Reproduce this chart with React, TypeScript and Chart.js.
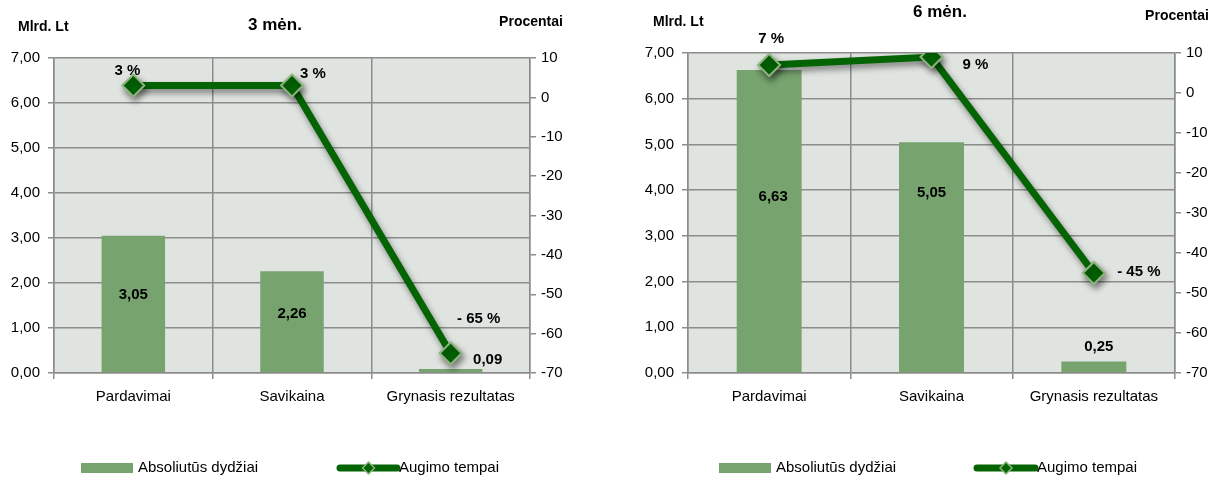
import React, { useEffect, useRef } from "react";
import { Chart, registerables } from "chart.js";

Chart.register(...registerables);

// ---------- data ----------
const categories = ["Pardavimai", "Savikaina", "Grynasis rezultatas"];
const absolute3m = [3.05, 2.26, 0.09];
const growth3m = [3, 3, -65];
const absolute6m = [6.63, 5.05, 0.25];
const growth6m = [7, 9, -45];
const panelTitles = ["3 mėn.", "6 mėn."];
const leftAxisTitle = "Mlrd. Lt";
const rightAxisTitle = "Procentai";
const seriesNames = ["Absoliutūs dydžiai", "Augimo tempai"];
const leftAxisRange = [0, 7, 1];
const rightAxisRange = [-70, 10, 10];

// ---------- style ----------
const H = 482;
const FONT = "'Liberation Sans', Arial, sans-serif";
const BAR = "#76A36E";
const LINE = "#046404";
const MARKER_BORDER = "#8DB47F";
const GRID = "#8C8C8C";
const PLOT_BG = "#E0E4E0";

const fmtAbs = (v: number) => v.toFixed(2).replace(".", ",");
const fmtPct = (v: number) => (v < 0 ? "- " + Math.abs(v) : String(v)) + " %";

type PanelCfg = {
  left: number;
  width: number;
  plotLeft: number;
  plotRight: number;
  plotTop: number;
  plotBottom: number;
  title: string;
  titlePos: [number, number];
  leftTitlePos: [number, number];
  rightTitlePos: [number, number];
  legendBoxX: number;
  legendText1X: number;
  legendLineX: [number, number];
  legendText2X: number;
  legendY: number;
  bars: number[];
  growth: number[];
  barLabelOffsets: [number, number][];
  lineLabelOffsets: [number, number][];
};

const panels: PanelCfg[] = [
  {
    left: 0,
    width: 600,
    plotLeft: 54,
    plotRight: 530,
    plotTop: 58,
    plotBottom: 373,
    title: panelTitles[0],
    titlePos: [275, 25],
    leftTitlePos: [18, 27],
    rightTitlePos: [531, 22],
    legendBoxX: 81,
    legendText1X: 138,
    legendLineX: [340, 397],
    legendText2X: 399,
    legendY: 468,
    bars: absolute3m,
    growth: growth3m,
    barLabelOffsets: [[0, 59], [0, 43], [37, -9]],
    lineLabelOffsets: [[-6, -15], [21, -12], [28, -34]],
  },
  {
    left: 600,
    width: 619,
    plotLeft: 88,
    plotRight: 575,
    plotTop: 53,
    plotBottom: 373,
    title: panelTitles[1],
    titlePos: [340, 12],
    leftTitlePos: [53, 22],
    rightTitlePos: [577, 16],
    legendBoxX: 119,
    legendText1X: 176,
    legendLineX: [377, 435],
    legendText2X: 437,
    legendY: 468,
    bars: absolute6m,
    growth: growth6m,
    barLabelOffsets: [[4, 127], [0, 51], [5, -15]],
    lineLabelOffsets: [[2, -26], [44, 8], [45, -1]],
  },
];

function makePlugin(cfg: PanelCfg) {
  return {
    id: "custom" + cfg.left,
    beforeDraw(chart: any) {
      const { ctx, chartArea } = chart;
      ctx.save();
      ctx.fillStyle = "#ffffff";
      ctx.fillRect(0, 0, chart.width, chart.height);
      ctx.fillStyle = PLOT_BG;
      ctx.fillRect(chartArea.left, chartArea.top, chartArea.right - chartArea.left, chartArea.bottom - chartArea.top);
      ctx.restore();
    },
    beforeDatasetDraw(chart: any, args: any) {
      if (args.index === 1) {
        const ctx = chart.ctx;
        ctx.save();
        ctx.shadowColor = "rgba(0,0,0,0.45)";
        ctx.shadowBlur = 6;
        ctx.shadowOffsetX = 2;
        ctx.shadowOffsetY = 4;
      }
    },
    afterDatasetDraw(chart: any, args: any) {
      if (args.index === 1) chart.ctx.restore();
    },
    afterDraw(chart: any) {
      const ctx = chart.ctx;
      ctx.save();
      ctx.fillStyle = "#000";
      ctx.textBaseline = "middle";
      // titles
      ctx.font = `bold 17px ${FONT}`;
      ctx.textAlign = "center";
      ctx.fillText(cfg.title, cfg.titlePos[0], cfg.titlePos[1]);
      ctx.font = `bold 14px ${FONT}`;
      ctx.textAlign = "left";
      ctx.fillText(leftAxisTitle, cfg.leftTitlePos[0], cfg.leftTitlePos[1]);
      ctx.textAlign = "center";
      ctx.fillText(rightAxisTitle, cfg.rightTitlePos[0], cfg.rightTitlePos[1]);

      // data labels
      ctx.font = `bold 15px ${FONT}`;
      ctx.textAlign = "center";
      const barMeta = chart.getDatasetMeta(0);
      barMeta.data.forEach((el: any, i: number) => {
        const [dx, dy] = cfg.barLabelOffsets[i];
        ctx.fillText(fmtAbs(cfg.bars[i]), el.x + dx, el.y + dy);
      });
      const lineMeta = chart.getDatasetMeta(1);
      lineMeta.data.forEach((el: any, i: number) => {
        const [dx, dy] = cfg.lineLabelOffsets[i];
        ctx.fillText(fmtPct(cfg.growth[i]), el.x + dx, el.y + dy);
      });

      // legend
      const ly = cfg.legendY;
      ctx.fillStyle = BAR;
      ctx.fillRect(cfg.legendBoxX, ly - 5, 52, 10);
      ctx.fillStyle = "#000";
      ctx.font = `15px ${FONT}`;
      ctx.textAlign = "left";
      ctx.fillText(seriesNames[0], cfg.legendText1X, ly);
      ctx.strokeStyle = LINE;
      ctx.lineWidth = 7;
      ctx.lineCap = "round";
      ctx.beginPath();
      ctx.moveTo(cfg.legendLineX[0], ly);
      ctx.lineTo(cfg.legendLineX[1], ly);
      ctx.stroke();
      const mx = (cfg.legendLineX[0] + cfg.legendLineX[1]) / 2;
      ctx.beginPath();
      ctx.moveTo(mx, ly - 6);
      ctx.lineTo(mx + 6, ly);
      ctx.lineTo(mx, ly + 6);
      ctx.lineTo(mx - 6, ly);
      ctx.closePath();
      ctx.fillStyle = LINE;
      ctx.fill();
      ctx.lineWidth = 1.5;
      ctx.strokeStyle = MARKER_BORDER;
      ctx.stroke();
      ctx.fillStyle = "#000";
      ctx.fillText(seriesNames[1], cfg.legendText2X, ly);
      ctx.restore();
    },
  };
}

function Panel({ cfg }: { cfg: PanelCfg }) {
  const ref = useRef<HTMLCanvasElement>(null);
  useEffect(() => {
    const tickFont = { family: FONT, size: 15 };
    const chart = new Chart(ref.current as HTMLCanvasElement, {
      type: "bar",
      data: {
        labels: categories,
        datasets: [
          {
            type: "bar",
            label: seriesNames[0],
            data: cfg.bars,
            yAxisID: "y",
            backgroundColor: BAR,
            barPercentage: 0.4,
            categoryPercentage: 1,
            order: 1,
          } as any,
          {
            type: "line",
            label: seriesNames[1],
            data: cfg.growth,
            yAxisID: "y1",
            borderColor: LINE,
            borderWidth: 7,
            pointStyle: "rectRot",
            pointRadius: 11,
            pointBackgroundColor: LINE,
            pointBorderColor: MARKER_BORDER,
            pointBorderWidth: 2,
            tension: 0,
            order: 0,
          } as any,
        ],
      },
      options: {
        responsive: false,
        animation: false,
        devicePixelRatio: 1,
        layout: { padding: { top: cfg.plotTop, left: 0, right: 0, bottom: 0 } },
        plugins: {
          legend: { display: false },
          title: { display: false },
          tooltip: { enabled: false },
        },
        scales: {
          x: {
            offset: true,
            grid: { offset: true, color: GRID, lineWidth: 1.5, tickLength: 6, drawTicks: true },
            border: { color: GRID, width: 1.5 },
            ticks: { font: tickFont, color: "#000", padding: 9, maxRotation: 0 },
            afterFit: (s: any) => {
              s.height = H - cfg.plotBottom;
            },
          },
          y: {
            position: "left",
            min: leftAxisRange[0],
            max: leftAxisRange[1],
            grid: { color: GRID, lineWidth: 1.5, tickLength: 6 },
            border: { color: GRID, width: 1.5 },
            ticks: {
              stepSize: leftAxisRange[2],
              font: tickFont,
              color: "#000",
              padding: 8,
              callback: (v: any) => fmtAbs(Number(v)),
            },
            afterFit: (s: any) => {
              s.width = cfg.plotLeft;
            },
          },
          y1: {
            position: "right",
            min: rightAxisRange[0],
            max: rightAxisRange[1],
            grid: { drawOnChartArea: false, color: GRID, lineWidth: 1.5, tickLength: 6 },
            border: { color: GRID, width: 1.5 },
            ticks: {
              stepSize: rightAxisRange[2],
              font: tickFont,
              color: "#000",
              padding: 5,
              callback: (v: any) => String(v),
            },
            afterFit: (s: any) => {
              s.width = cfg.width - cfg.plotRight;
            },
          },
        },
      } as any,
      plugins: [makePlugin(cfg)],
    });
    return () => chart.destroy();
  }, []);
  return (
    <canvas
      ref={ref}
      width={cfg.width}
      height={H}
      style={{ position: "absolute", left: cfg.left, top: 0, width: cfg.width, height: H, display: "block" }}
    />
  );
}

export default function App() {
  return (
    <div style={{ position: "fixed", left: 0, top: 0, width: 1219, height: H, background: "#fff", overflow: "hidden" }}>
      {panels.map((p) => (
        <Panel key={p.left} cfg={p} />
      ))}
    </div>
  );
}
